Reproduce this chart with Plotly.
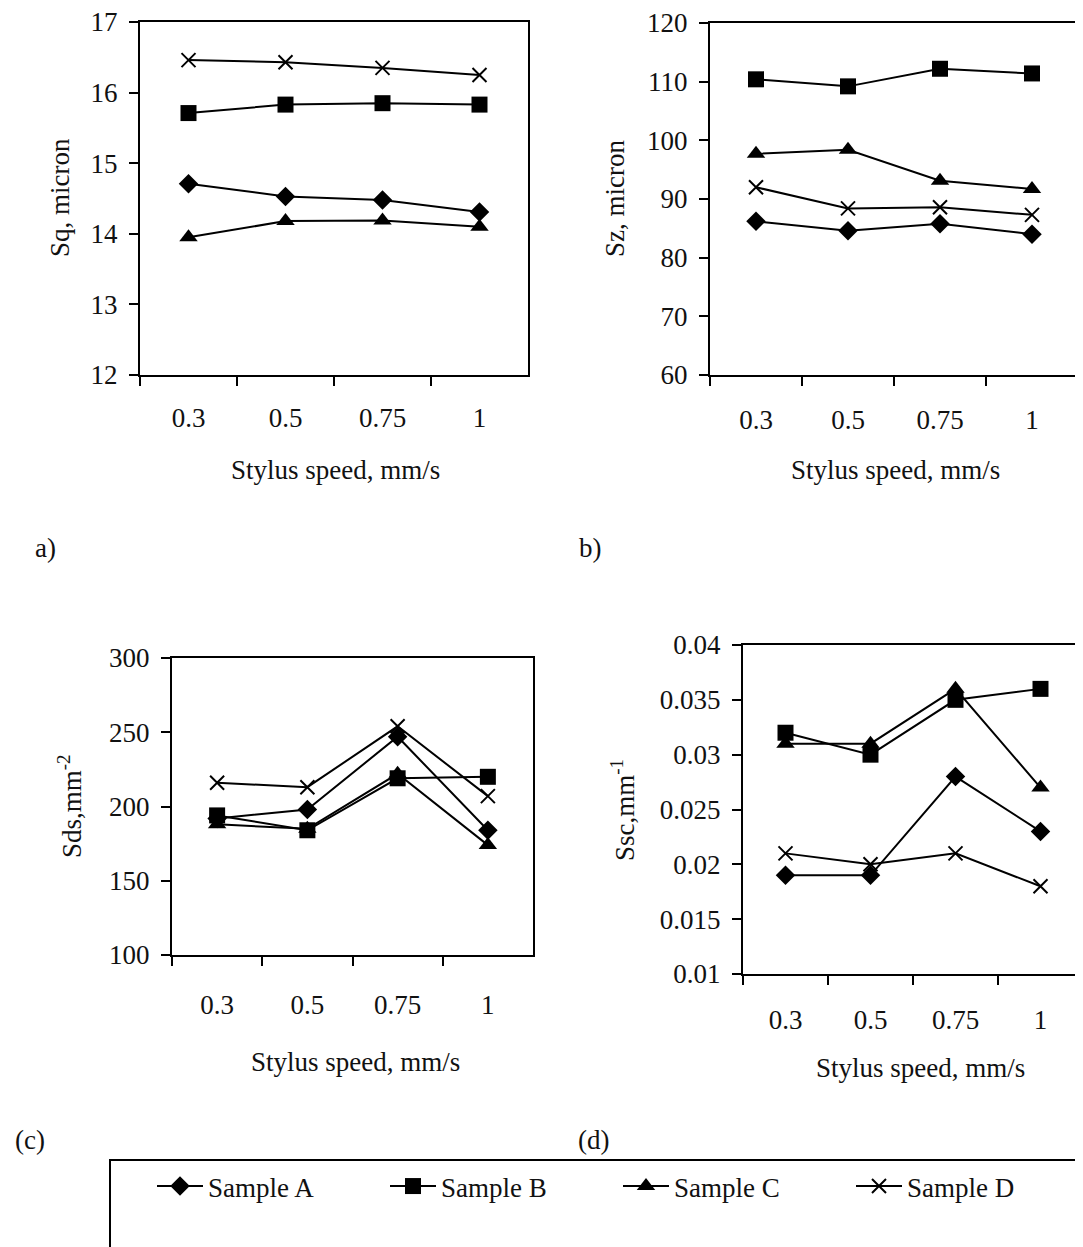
import plotly.graph_objects as go

PAGE_OFF = 8  # browser body margin
W, H = 1083 - PAGE_OFF, 1247 - PAGE_OFF

speeds = ["0.3", "0.5", "0.75", "1"]
samples = ["Sample A", "Sample B", "Sample C", "Sample D"]

# Panel a: Sq, micron
sq_A = [14.71, 14.53, 14.48, 14.31]
sq_B = [15.71, 15.83, 15.85, 15.83]
sq_C = [13.95, 14.18, 14.19, 14.10]
sq_D = [16.46, 16.43, 16.35, 16.25]

# Panel b: Sz, micron
sz_A = [86.2, 84.6, 85.8, 84.0]
sz_B = [110.4, 109.2, 112.2, 111.4]
sz_C = [97.7, 98.4, 93.1, 91.7]
sz_D = [92.0, 88.4, 88.6, 87.3]

# Panel c: Sds, mm^-2
sds_A = [192.0, 198.0, 247.0, 184.0]
sds_B = [194.0, 184.0, 219.0, 220.0]
sds_C = [188.0, 185.0, 222.0, 174.0]
sds_D = [216.0, 213.0, 254.0, 207.0]

# Panel d: Ssc, mm^-1
ssc_A = [0.019, 0.019, 0.028, 0.023]
ssc_B = [0.032, 0.030, 0.035, 0.036]
ssc_C = [0.031, 0.031, 0.036, 0.027]
ssc_D = [0.021, 0.020, 0.021, 0.018]

ticks_a = [12, 13, 14, 15, 16, 17]
ticks_b = [60, 70, 80, 90, 100, 110, 120]
ticks_c = [100, 150, 200, 250, 300]
ticks_d = [0.01, 0.015, 0.02, 0.025, 0.03, 0.035, 0.04]
ticktext_d = ["0.01", "0.015", "0.02", "0.025", "0.03", "0.035", "0.04"]

FONT = "Liberation Serif"
INK = "#111111"
FS = 27

def px_x(x):
    return (x - PAGE_OFF) / W

def px_y(y):
    return 1 - (y - PAGE_OFF) / H

# panel boxes in page pixels: left, right, top, bottom
boxes = {
    "a": (140, 528, 22, 375),
    "b": (710, 1078, 23, 375),
    "c": (172, 533, 658, 955),
    "d": (743, 1083, 645, 974),
}

symbols = ["diamond", "square", "triangle-up", "x-thin"]
sizes = [15, 16, 16, 14]

panel_data = [
    ("a", [sq_A, sq_B, sq_C, sq_D]),
    ("b", [sz_A, sz_B, sz_C, sz_D]),
    ("c", [sds_A, sds_B, sds_C, sds_D]),
    ("d", [ssc_A, ssc_B, ssc_C, ssc_D]),
]

fig = go.Figure()

for i, (key, series) in enumerate(panel_data):
    n = "" if i == 0 else str(i + 1)
    for j, ys in enumerate(series):
        sym = symbols[j]
        mk = dict(symbol=sym, size=sizes[j], color="black")
        if sym == "x-thin":
            mk["line"] = dict(width=2, color="black")
        else:
            mk["line"] = dict(width=0)
        fig.add_trace(go.Scatter(
            x=speeds, y=ys, mode="lines+markers",
            name=samples[j], legendgroup=samples[j],
            showlegend=(i == 0),
            line=dict(color="black", width=2),
            marker=mk,
            xaxis="x" + n, yaxis="y" + n,
        ))

axis_common = dict(
    showline=True, linecolor="black", linewidth=2,
    ticks="outside", tickcolor="black", tickwidth=2, ticklen=9,
    showgrid=False, zeroline=False,
    tickfont=dict(family=FONT, size=FS, color=INK),
    ticklabeloverflow="allow",
)

yranges = {"a": [12, 17], "b": [60, 120], "c": [100, 300], "d": [0.01, 0.04]}
yticks = {"a": ticks_a, "b": ticks_b, "c": ticks_c, "d": ticks_d}
yticktext = {"a": [str(v) for v in ticks_a], "b": [str(v) for v in ticks_b],
             "c": [str(v) for v in ticks_c], "d": ticktext_d}
xstand = {"a": 18, "b": 20, "c": 25, "d": 21}

layout = {}
for i, key in enumerate(["a", "b", "c", "d"]):
    n = "" if i == 0 else str(i + 1)
    l, r, t, b = boxes[key]
    xa = dict(axis_common)
    xa.update(type="category", domain=[px_x(l), min(1.0, px_x(r))],
              anchor="y" + n, tickson="boundaries", mirror=True,
              range=[-0.5, 3.5], ticklabelstandoff=xstand[key], automargin=False)
    ya = dict(axis_common)
    ya.update(domain=[px_y(b), px_y(t)], anchor="x" + n,
              range=yranges[key], tickvals=yticks[key], ticktext=yticktext[key],
              mirror=(key != "d"), ticklabelstandoff=6, automargin=False)
    layout["xaxis" + n] = xa
    layout["yaxis" + n] = ya

annotations = []
def txt(text, x, y, angle=0, size=FS):
    annotations.append(dict(text=text, x=px_x(x), y=px_y(y), xref="paper", yref="paper",
                            showarrow=False, textangle=angle,
                            font=dict(family=FONT, size=size, color=INK),
                            xanchor="center", yanchor="middle"))

txt("Stylus speed, mm/s", 335, 470)
txt("Stylus speed, mm/s", 895, 470)
txt("Stylus speed, mm/s", 355, 1062)
txt("Stylus speed, mm/s", 920, 1068)
txt("Sq, micron", 60, 198, angle=-90)
txt("Sz, micron", 615, 199, angle=-90)
txt("Sds,mm<sup>-2</sup>", 70, 806, angle=-90)
txt("Ssc,mm<sup>-1</sup>", 623, 810, angle=-90)
txt("a)", 45, 548)
txt("b)", 590, 548)
txt("(c)", 30, 1140)
txt("(d)", 593, 1140)

shapes = [dict(type="rect", xref="paper", yref="paper",
               x0=px_x(110), x1=px_x(1078), y0=px_y(1290), y1=px_y(1160),
               line=dict(color="black", width=2), fillcolor="rgba(0,0,0,0)")]

fig.update_layout(
    width=W, height=H,
    margin=dict(l=0, r=0, t=0, b=0, autoexpand=False),
    paper_bgcolor="white", plot_bgcolor="white",
    font=dict(family=FONT, size=FS, color=INK),
    annotations=annotations, shapes=shapes,
    legend=dict(orientation="h", x=px_x(152), y=px_y(1162), xanchor="left", yanchor="top",
                entrywidth=172, entrywidthmode="pixels",
                font=dict(family=FONT, size=FS, color=INK),
                bgcolor="rgba(0,0,0,0)", borderwidth=0, itemwidth=46),
    **layout,
)

fig.write_html("out.html")
